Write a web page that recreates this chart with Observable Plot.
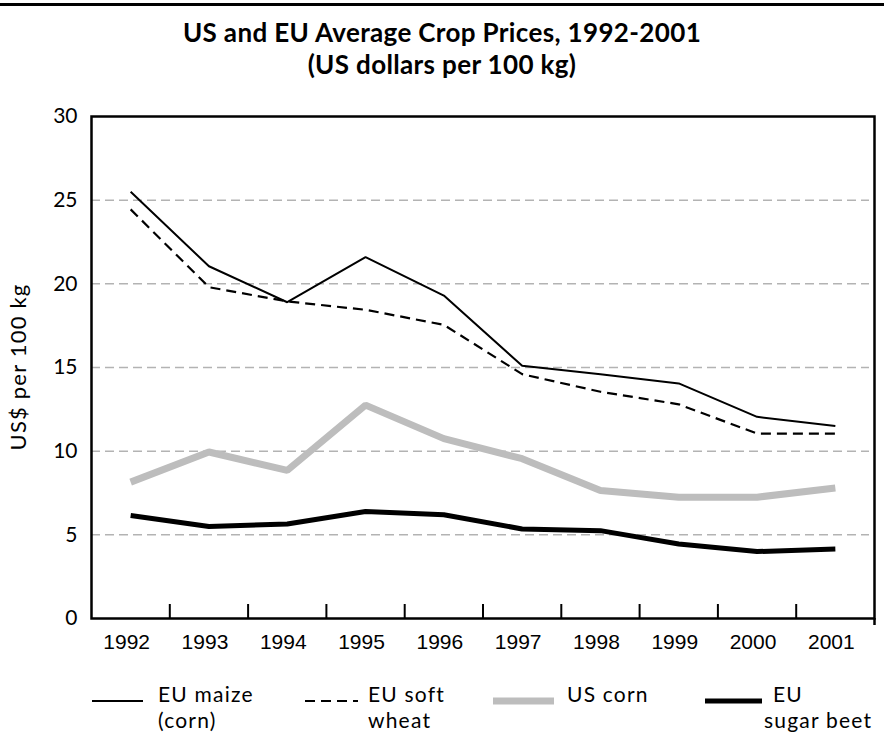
<!DOCTYPE html>
<html>
<head>
<meta charset="utf-8">
<script src="https://cdn.jsdelivr.net/npm/d3@7"></script>
<script src="https://cdn.jsdelivr.net/npm/@observablehq/plot@0.6"></script>
<style>
  html, body { margin: 0; padding: 0; background: #fff; }
  #page { position: relative; width: 884px; height: 733px; overflow: hidden; font-family: Lato, sans-serif; color: #000; }
  #rule { position: absolute; left: 0; top: 3px; width: 884px; height: 3px; background: #000; }
  .title { position: absolute; left: 0; width: 884px; text-align: center; font-family: Lato, sans-serif; font-weight: 700; font-size: 26px; line-height: 32px; letter-spacing: 0.35px; white-space: nowrap; }
  #chart { position: absolute; left: 0; top: 96px; }
  #ylabel { position: absolute; left: 18px; top: 367px; width: 0; height: 0; }
  #ylabel span { position: absolute; left: 0; top: 0; transform: translate(-50%, -50%) rotate(-90deg); white-space: nowrap; font-size: 22px; letter-spacing: 1.2px; line-height: 24px; }
  .leg { position: absolute; font-size: 21px; line-height: 26px; letter-spacing: 1.2px; white-space: nowrap; }
  .sw { position: absolute; }
</style>
</head>
<body>
<div id="page">
  <div id="rule"></div>
  <div class="title" style="top:16px">US and EU Average Crop Prices, 1992-2001</div>
  <div class="title" style="top:48px">(US dollars per 100 kg)</div>
  <div id="chart"></div>
  <div id="ylabel"><span>US$ per 100 kg</span></div>
  <div id="legend"></div>
</div>
<script>
// ---- data ----
const years = [1992, 1993, 1994, 1995, 1996, 1997, 1998, 1999, 2000, 2001];
const euMaize      = [25.5, 21.05, 18.9, 21.6, 19.3, 15.1, 14.6, 14.05, 12.05, 11.5];
const euSoftWheat  = [24.45, 19.8, 18.95, 18.45, 17.55, 14.6, 13.55, 12.8, 11.05, 11.05];
const usCorn       = [8.15, 9.95, 8.85, 12.75, 10.75, 9.55, 7.65, 7.25, 7.25, 7.8];
const euSugarBeet  = [6.15, 5.5, 5.65, 6.4, 6.2, 5.35, 5.25, 4.45, 4.0, 4.15];
const yTicks = [0, 5, 10, 15, 20, 25, 30];
const gridValues = [5, 10, 15, 20, 25];
const seriesNames = ["EU maize (corn)", "EU soft wheat", "US corn", "EU sugar beet"];

const seriesValues = [euMaize, euSoftWheat, usCorn, euSugarBeet];
const styles = [
  {stroke: "#000", strokeWidth: 2, dash: null},
  {stroke: "#000", strokeWidth: 2.2, dash: "10,6"},
  {stroke: "#bdbdbd", strokeWidth: 7, dash: null},
  {stroke: "#000", strokeWidth: 5, dash: null}
];
const rows = seriesNames.flatMap((name, s) => years.map((year, i) => ({series: name, year, value: seriesValues[s][i]})));

const xDomain = [years[0] - 0.5, years[years.length - 1] + 0.5];
const boundaries = years.slice(1).map(y => y - 0.5);

const lineMarks = [2, 3, 1, 0].map(s => Plot.line(rows.filter(d => d.series === seriesNames[s]), {
  x: "year", y: "value",
  stroke: styles[s].stroke, strokeWidth: styles[s].strokeWidth,
  strokeDasharray: styles[s].dash, strokeLinejoin: "miter", strokeLinecap: "butt"
}));

const chart = Plot.plot({
  width: 884,
  height: 574,
  marginLeft: 91,
  marginRight: 10,
  marginTop: 20,
  marginBottom: 52,
  style: {fontFamily: "Lato, sans-serif", color: "#000", background: "transparent"},
  x: {domain: xDomain, axis: null},
  y: {domain: [0, 30], axis: null},
  marks: [
    Plot.ruleY(gridValues, {stroke: "#b3b3b3", strokeWidth: 1.5, strokeDasharray: "9,5", insetRight: 5}),
    ...lineMarks,
    Plot.frame({stroke: "#000", strokeWidth: 2.5}),
    Plot.axisY(yTicks, {anchor: "left", tickSize: 0, tickPadding: 14, fontSize: 21, label: null}),
    Plot.axisX(years, {anchor: "bottom", tickSize: 0, tickPadding: 16, fontSize: 21, dx: -4,
      fontFamily: "'Liberation Sans Narrow', 'Liberation Sans', sans-serif",
      tickFormat: d => String(d), label: null}),
    Plot.axisX(boundaries, {anchor: "bottom", tickSize: 14, dy: -14, strokeWidth: 2,
      tickFormat: () => "", label: null}),
    Plot.axisX([xDomain[1]], {anchor: "bottom", tickSize: 7, strokeWidth: 2.5,
      tickFormat: () => "", label: null})
  ]
});
document.getElementById("chart").appendChild(chart);

// ---- legend ----
const legendItems = [
  {x: 92, w: 51, tx: 158, lines: ["EU maize", "(corn)"], s: 0},
  {x: 305, w: 53, tx: 368, lines: ["EU soft", "wheat"], s: 1},
  {x: 493, w: 61, tx: 567, lines: ["US corn"], s: 2},
  {x: 705, w: 57, tx: 773, lines: ["EU", "sugar beet"], s: 3}
];
const legend = document.getElementById("legend");
legendItems.forEach(it => {
  const st = styles[it.s];
  const svg = d3.create("svg").attr("class", "sw")
    .attr("width", it.w).attr("height", 12)
    .style("left", it.x + "px").style("top", "695px");
  svg.append("line").attr("x1", 0).attr("x2", it.w).attr("y1", 6).attr("y2", 6)
    .attr("stroke", st.stroke).attr("stroke-width", st.strokeWidth)
    .attr("stroke-dasharray", st.dash);
  legend.appendChild(svg.node());
  it.lines.forEach((t, k) => {
    const div = document.createElement("div");
    div.className = "leg";
    div.textContent = t;
    div.style.left = (it.s === 3 && k === 1 ? 764 : it.tx) + "px";
    div.style.top = (681 + k * 26) + "px";
    legend.appendChild(div);
  });
});
</script>
</body>
</html>
